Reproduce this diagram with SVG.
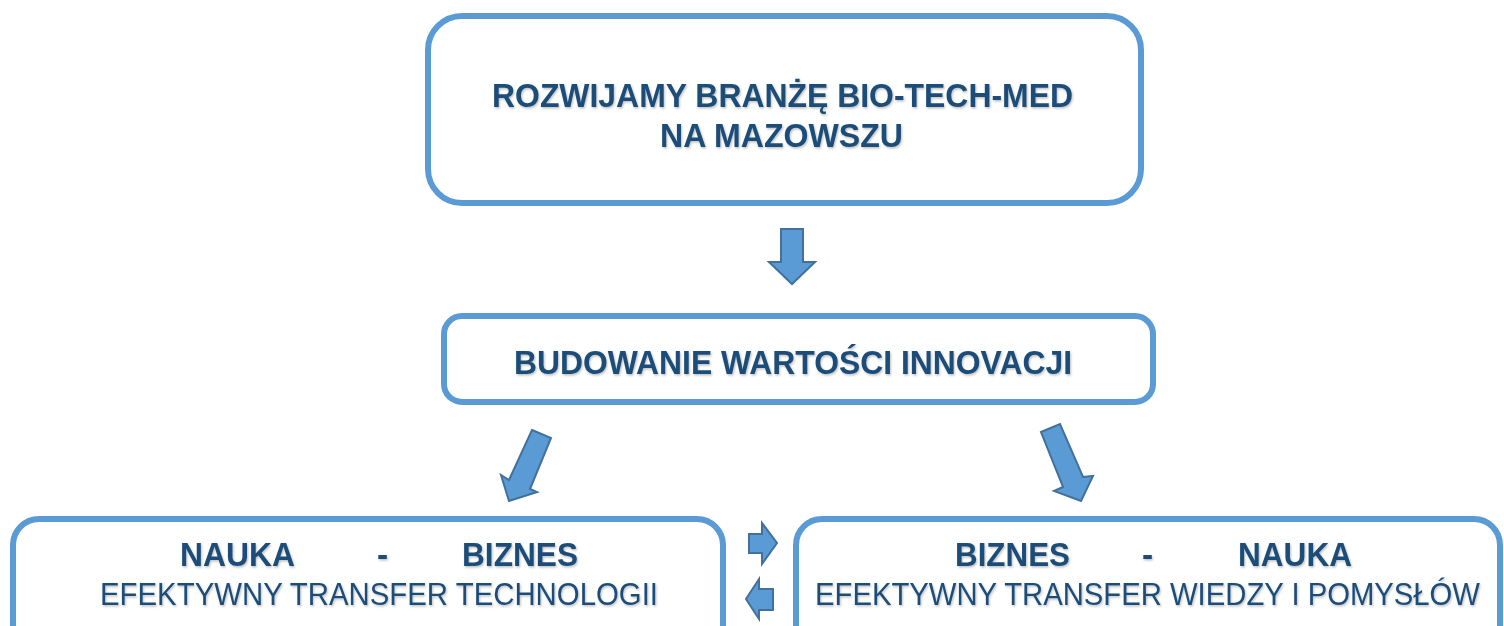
<svg xmlns="http://www.w3.org/2000/svg" width="1504" height="626" viewBox="0 0 1504 626">
<defs>
<style>
.box{fill:#fff;stroke:#5B9BD5;stroke-width:6}
.arr{fill:#5B9BD5;stroke:#41719C;stroke-width:2;stroke-linejoin:miter}
.b{font-family:"Liberation Sans",Arial,sans-serif;font-weight:bold;font-size:33.5px;fill:#1F4E79}
.r{font-family:"Liberation Sans",Arial,sans-serif;font-size:31px;fill:#1F4E79}
</style>
<filter id="sh" x="-5%" y="-30%" width="110%" height="160%">
<feDropShadow dx="1" dy="1.5" stdDeviation="0.8" flood-color="#000" flood-opacity="0.25"/>
</filter>
</defs>
<rect width="1504" height="626" fill="#fff"/>
<g id="node-top">
<rect class="box" x="428" y="16" width="713" height="187" rx="34"/>
<g filter="url(#sh)">
<text class="b" x="492" y="107" textLength="581" lengthAdjust="spacingAndGlyphs">ROZWIJAMY BRANŻĘ BIO-TECH-MED</text>
<text class="b" x="660" y="147" textLength="243" lengthAdjust="spacingAndGlyphs">NA MAZOWSZU</text>
</g>
</g>
<g id="node-middle">
<rect class="box" x="444" y="316" width="709" height="86" rx="18"/>
<text class="b" x="514" y="374" textLength="558" lengthAdjust="spacingAndGlyphs" filter="url(#sh)">BUDOWANIE WARTOŚCI INNOVACJI</text>
</g>
<g id="node-left">
<rect class="box" x="13" y="519" width="710" height="140" rx="26"/>
<g filter="url(#sh)">
<text class="b" x="180" y="566" textLength="115" lengthAdjust="spacingAndGlyphs">NAUKA</text>
<text class="b" x="377" y="566">-</text>
<text class="b" x="462" y="566" textLength="116" lengthAdjust="spacingAndGlyphs">BIZNES</text>
<text class="r" x="100" y="605" textLength="558" lengthAdjust="spacingAndGlyphs">EFEKTYWNY TRANSFER TECHNOLOGII</text>
</g>
</g>
<g id="node-right">
<rect class="box" x="796" y="519" width="704" height="140" rx="26"/>
<g filter="url(#sh)">
<text class="b" x="955" y="566" textLength="115" lengthAdjust="spacingAndGlyphs">BIZNES</text>
<text class="b" x="1142" y="566">-</text>
<text class="b" x="1238" y="566" textLength="114" lengthAdjust="spacingAndGlyphs">NAUKA</text>
<text class="r" x="815" y="605" textLength="665" lengthAdjust="spacingAndGlyphs">EFEKTYWNY TRANSFER WIEDZY I POMYSŁÓW</text>
</g>
</g>
<g id="connectors">
<polygon class="arr" points="781,229 803,229 803,262 815,262 792,284 769,262 781,262"/>
<polygon class="arr" points="532,430 551,438 530,489 537,492 509,501 501,475 509,480"/>
<polygon class="arr" points="1041,432 1060,424 1083,477 1093,476 1081,501 1054,491 1063,487"/>
<polygon class="arr" points="749,534 762,534 762,523 777,543 762,564 762,553 749,553"/>
<polygon class="arr" points="773,589 759,589 759,579 746,599 759,619 759,610 773,610"/>
</g>
</svg>
